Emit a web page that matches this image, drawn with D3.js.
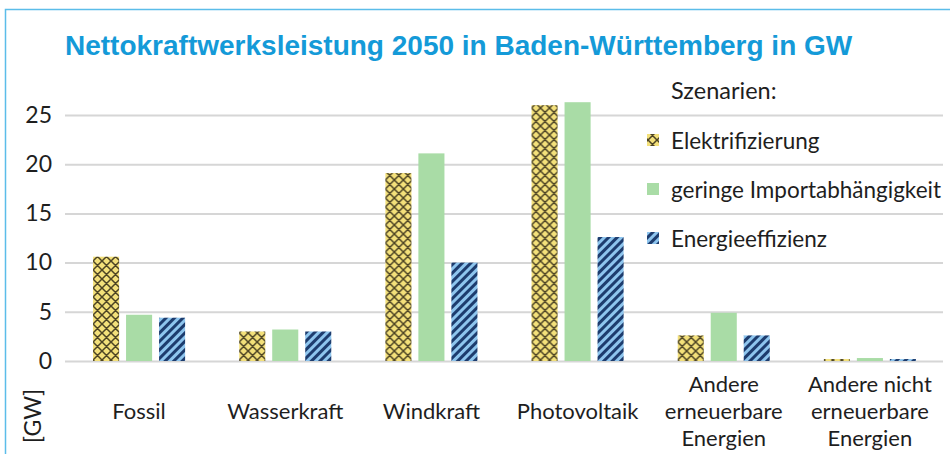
<!DOCTYPE html>
<html>
<head>
<meta charset="utf-8">
<script src="https://cdn.jsdelivr.net/npm/d3@7"></script>
<style>
  body { margin: 0; background: #fff; }
  svg { display: block; }
</style>
</head>
<body>
<div id="chart"></div>
<script>
// data
const categories = [
  ["Fossil"],
  ["Wasserkraft"],
  ["Windkraft"],
  ["Photovoltaik"],
  ["Andere", "erneuerbare", "Energien"],
  ["Andere nicht", "erneuerbare", "Energien"]
];
const series = ["Elektrifizierung", "geringe Importabhängigkeit", "Energieeffizienz"];
const elektrifizierung = [10.6, 3.0, 19.1, 26.0, 2.6, 0.2];
const importabhaengigkeit = [4.7, 3.2, 21.1, 26.3, 4.9, 0.3];
const energieeffizienz = [4.4, 3.0, 10.0, 12.6, 2.6, 0.2];
const yTicks = [0, 5, 10, 15, 20, 25];

const values = [elektrifizierung, importabhaengigkeit, energieeffizienz];
const catKeys = categories.map(c => c.join(" "));

const width = 950, height = 454;
const font = "Lato, 'Open Sans', sans-serif";
const textCol = "#1e1e1e";

const svg = d3.select("#chart").append("svg")
    .attr("width", width)
    .attr("height", height)

const defs = svg.append("defs")

// yellow cross hatch
const pY = defs.append("pattern")
    .attr("id", "hatchY")
    .attr("patternUnits", "userSpaceOnUse")
    .attr("width", 9).attr("height", 9)
pY.append("rect").attr("width", 9).attr("height", 9).attr("fill", "#f3e07a")
pY.append("path")
    .attr("d", "M0,0L9,9M9,0L0,9M-1,8L1,10M8,-1L10,1")
    .attr("stroke", "#4d4424").attr("stroke-width", 1.5)

// blue diagonal stripes
const pB = defs.append("pattern")
    .attr("id", "hatchB")
    .attr("patternUnits", "userSpaceOnUse")
    .attr("width", 6).attr("height", 6)
    .attr("patternTransform", "rotate(45)")
pB.append("rect").attr("width", 6).attr("height", 6).attr("fill", "#8ec5ee")
pB.append("rect").attr("width", 3).attr("height", 6).attr("fill", "#1d3c6e")

const fills = ["url(#hatchY)", "#a9dca6", "url(#hatchB)"];

// frame
svg.append("path")
    .attr("d", `M5.5,${height}V9.5H${width}`)
    .attr("fill", "none")
    .attr("stroke", "#5bbde9")
    .attr("stroke-width", 1.5)

// title
svg.append("text")
    .attr("x", 65).attr("y", 55)
    .attr("font-family", "'Liberation Sans', Arial, sans-serif")
    .attr("font-weight", "bold")
    .attr("font-size", 28)
    .attr("fill", "#149ad8")
    .text("Nettokraftwerksleistung 2050 in Baden-Württemberg in GW")

//scales
const x = d3.scaleBand().domain(catKeys).range([66, 943])
const xSub = d3.scaleBand().domain(series).range([0, x.bandwidth()])
    .paddingInner(0.21).paddingOuter(0.82)
const y = d3.scaleLinear().domain([0, 25]).range([361, 115])

// grid + y axis
const yAxis = svg.append("g")
    .attr("transform", "translate(65,0)")
    .call(d3.axisLeft(y).tickValues(yTicks).tickSize(-(943 - 65)).tickPadding(13))
yAxis.select(".domain").remove()
yAxis.selectAll(".tick line").attr("stroke", "#d6d6d6").attr("stroke-width", 2)
yAxis.selectAll(".tick text")
    .attr("font-family", font).attr("font-size", 23).attr("fill", textCol)

svg.append("text")
    .attr("transform", "translate(32,416) rotate(-90)")
    .attr("text-anchor", "middle")
    .attr("dominant-baseline", "central")
    .attr("font-family", font).attr("font-size", 23).attr("fill", textCol)
    .text("[GW]")

// bars
const groups = svg.append("g").selectAll("g")
    .data(catKeys)
    .join("g")
    .attr("transform", d => `translate(${x(d)},0)`)

groups.selectAll("rect")
    .data((d, i) => series.map((s, j) => ({ s, j, v: values[j][i] })))
    .join("rect")
    .attr("x", d => xSub(d.s))
    .attr("width", xSub.bandwidth())
    .attr("y", d => y(d.v))
    .attr("height", d => y(0) - y(d.v))
    .attr("fill", d => fills[d.j])

// category labels
const lineH = 27;
svg.append("g").selectAll("text")
    .data(categories)
    .join("text")
    .attr("text-anchor", "middle")
    .attr("font-family", font).attr("font-size", 22).attr("fill", textCol)
    .each(function(lines, i) {
        const t = d3.select(this)
        const cx = x(catKeys[i]) + x.bandwidth() / 2
        const y0 = 410 - (lines.length - 1) * lineH / 2
        lines.forEach((l, k) => {
            t.append("tspan")
                .attr("x", cx)
                .attr("y", y0 + k * lineH)
                .attr("dominant-baseline", "central")
                .text(l)
        })
    })

// legend
const legend = svg.append("g").attr("font-family", font).attr("font-size", 22.5).attr("fill", textCol)
legend.append("text")
    .attr("x", 671).attr("y", 90)
    .attr("dominant-baseline", "central")
    .attr("font-size", 23.5)
    .text("Szenarien:")
const item = legend.selectAll("g.item")
    .data(series)
    .join("g")
    .attr("class", "item")
    .attr("transform", (d, i) => `translate(0,${140 + i * 49})`)
item.append("rect")
    .attr("x", 647).attr("y", -6)
    .attr("width", 12).attr("height", 12)
    .attr("fill", (d, i) => fills[i])
item.append("text")
    .attr("x", 671)
    .attr("dominant-baseline", "central")
    .text(d => d)
</script>
</body>
</html>
